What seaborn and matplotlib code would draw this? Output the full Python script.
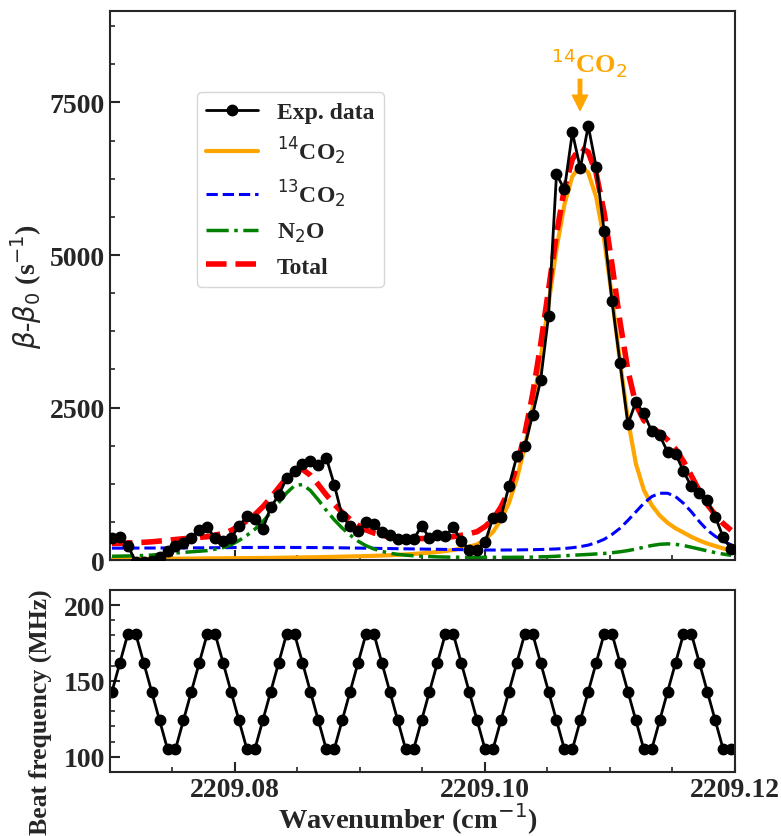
import numpy as np
import matplotlib
matplotlib.use("Agg")
import matplotlib.pyplot as plt
import seaborn as sns
from matplotlib.ticker import FixedLocator, MultipleLocator, AutoMinorLocator, FormatStrFormatter

# wavenumber scan (cm^-1): start, step, number of points
scan_start = 2209.07016
scan_step = 0.000635
n_points = 79
wavenumber = scan_start + scan_step * np.arange(n_points)

exp_data = [357, 373, 235, -30, -40, -20, 44, 153, 225, 280,
            362, 498, 538, 357, 317, 362, 554, 719, 674, 510,
            867, 1058, 1344, 1459, 1579, 1617, 1551, 1678, 1236, 724,
            551, 469, 625, 598, 456, 405, 353, 353, 340, 556,
            365, 416, 390, 538, 317, 169, 169, 291, 691, 702,
            1206, 1698, 1862, 2385, 2945, 4002, 6322, 6075, 7008, 6421,
            7118, 6443, 5391, 4239, 3236, 2226, 2594, 2402, 2111, 2045,
            1772, 1744, 1453, 1206, 1102, 976, 712, 373, 181]

co2_14 = [15, 16, 17, 18, 19, 20, 21, 22, 23, 24,
          25, 26, 27, 28, 29, 30, 31, 32, 33, 34,
          35, 37, 39, 41, 43, 45, 47, 50, 53, 56,
          59, 62, 65, 69, 73, 79, 85, 92, 100, 110,
          120, 133, 148, 165, 190, 220, 255, 340, 460, 660,
          930, 1330, 1850, 2500, 3300, 4200, 5100, 5830, 6290, 6460,
          6350, 5950, 5250, 4300, 3250, 2300, 1580, 1150, 900, 730,
          610, 520, 450, 380, 320, 270, 230, 190, 160]

co2_13 = [195, 195, 196, 196, 197, 197, 198, 198, 199, 199,
          200, 200, 201, 202, 203, 204, 205, 206, 206, 207,
          207, 207, 207, 206, 206, 205, 204, 203, 202, 200,
          198, 196, 194, 192, 190, 188, 186, 184, 182, 180,
          178, 176, 174, 172, 170, 168, 166, 165, 164, 164,
          165, 166, 168, 170, 173, 177, 182, 190, 202, 220,
          245, 285, 340, 420, 520, 650, 790, 930, 1040, 1095,
          1095, 1040, 930, 790, 630, 490, 390, 310, 250]

n2o = [62, 64, 67, 70, 75, 82, 92, 103, 115, 126,
       135, 145, 155, 178, 205, 250, 320, 405, 505, 630,
       780, 940, 1100, 1220, 1238, 1140, 985, 815, 660, 525,
       410, 310, 235, 182, 142, 112, 93, 80, 70, 62,
       57, 52, 49, 47, 45, 44, 44, 44, 44, 44,
       44, 45, 46, 48, 52, 56, 62, 70, 78, 85,
       92, 100, 108, 120, 135, 155, 180, 210, 238, 258,
       265, 258, 238, 210, 180, 150, 122, 98, 78]

total = np.array(co2_14) + np.array(co2_13) + np.array(n2o)

beat_freq = [143, 162, 181, 181, 162, 143, 124, 105, 105, 124] * 7 + \
            [143, 162, 181, 181, 162, 143, 124, 105, 105]

sns.set_style("ticks")
plt.rcParams["font.family"] = "serif"
plt.rcParams["font.serif"] = ["Liberation Serif", "DejaVu Serif"]
# keep font.weight normal so mathtext digits/greek stay regular
plt.rcParams["mathtext.fontset"] = "dejavusans"
plt.rcParams["xtick.direction"] = "in"
plt.rcParams["ytick.direction"] = "in"
plt.rcParams["axes.linewidth"] = 1.5

fig = plt.figure(figsize=(7.81, 8.37), dpi=100)
ax1 = fig.add_axes([0.1408, 0.3297, 0.8003, 0.6560])
ax2 = fig.add_axes([0.1408, 0.0765, 0.8003, 0.2174], sharex=ax1)

sns.lineplot(x=wavenumber, y=exp_data, ax=ax1, color="black", lw=2,
             marker="o", markersize=7.5, markeredgecolor="black",
             markeredgewidth=1, label="Exp. data", estimator=None, zorder=5)
sns.lineplot(x=wavenumber, y=co2_14, ax=ax1, color="orange", lw=3,
             label=r"$^{14}$CO$_2$", estimator=None)
sns.lineplot(x=wavenumber, y=co2_13, ax=ax1, color="blue", lw=2.2,
             linestyle="--", label=r"$^{13}$CO$_2$", estimator=None)
sns.lineplot(x=wavenumber, y=n2o, ax=ax1, color="green", lw=2.5,
             linestyle="-.", label=r"N$_2$O", estimator=None)
sns.lineplot(x=wavenumber, y=total, ax=ax1, color="red", lw=4,
             linestyle="--", label="Total", estimator=None)

ax1.annotate("", xy=(2209.1076, 7370), xytext=(2209.1076, 7880),
             arrowprops=dict(color="orange", width=2.5, headwidth=11,
                             headlength=11, shrink=0))
ax1.text(2209.1083, 7900, r"$^{14}$CO$_2$", color="orange", fontsize=19,
         fontweight="bold", ha="center", va="bottom")

ax1.set_ylim(0, 9000)
ax1.set_ylabel(r"$\beta$-$\beta_0$ (s$^{-1}$)", fontsize=20, fontweight="bold")
ax1.yaxis.set_major_locator(MultipleLocator(2500))
ax1.yaxis.set_minor_locator(AutoMinorLocator(4))
ax1.tick_params(labelbottom=False)
ax1.legend(loc="upper left", bbox_to_anchor=(0.139, 0.8525),
           borderaxespad=0, prop={"size": 17, "weight": "bold"},
           handlelength=2.2)

sns.lineplot(x=wavenumber, y=beat_freq, ax=ax2, color="black", lw=2,
             marker="o", markersize=7.5, markeredgecolor="black",
             markeredgewidth=1, estimator=None)
ax2.set_ylim(90, 210)
ax2.yaxis.set_major_locator(MultipleLocator(50))
ax2.yaxis.set_minor_locator(AutoMinorLocator(5))
ax2.set_ylabel("Beat frequency (MHz)", fontsize=18.5, fontweight="bold")
ax2.yaxis.set_label_coords(-0.093, 0.335)
ax2.set_xlabel(r"Wavenumber (cm$^{-1}$)", fontsize=20.5, fontweight="bold")
ax2.xaxis.set_label_coords(0.477, -0.157)

ax2.set_xlim(2209.07, 2209.12)
ax2.xaxis.set_major_locator(FixedLocator([2209.08, 2209.10, 2209.12]))
ax2.xaxis.set_minor_locator(MultipleLocator(0.005))
ax2.xaxis.set_major_formatter(FormatStrFormatter("%.2f"))

for ax in (ax1, ax2):
    ax.tick_params(which="major", length=7, width=1.5, labelsize=20)
    ax.tick_params(which="minor", length=3.5, width=1.2)
    plt.setp(ax.get_xticklabels() + ax.get_yticklabels(), fontweight="bold")

fig.savefig("out.png", dpi=100)
